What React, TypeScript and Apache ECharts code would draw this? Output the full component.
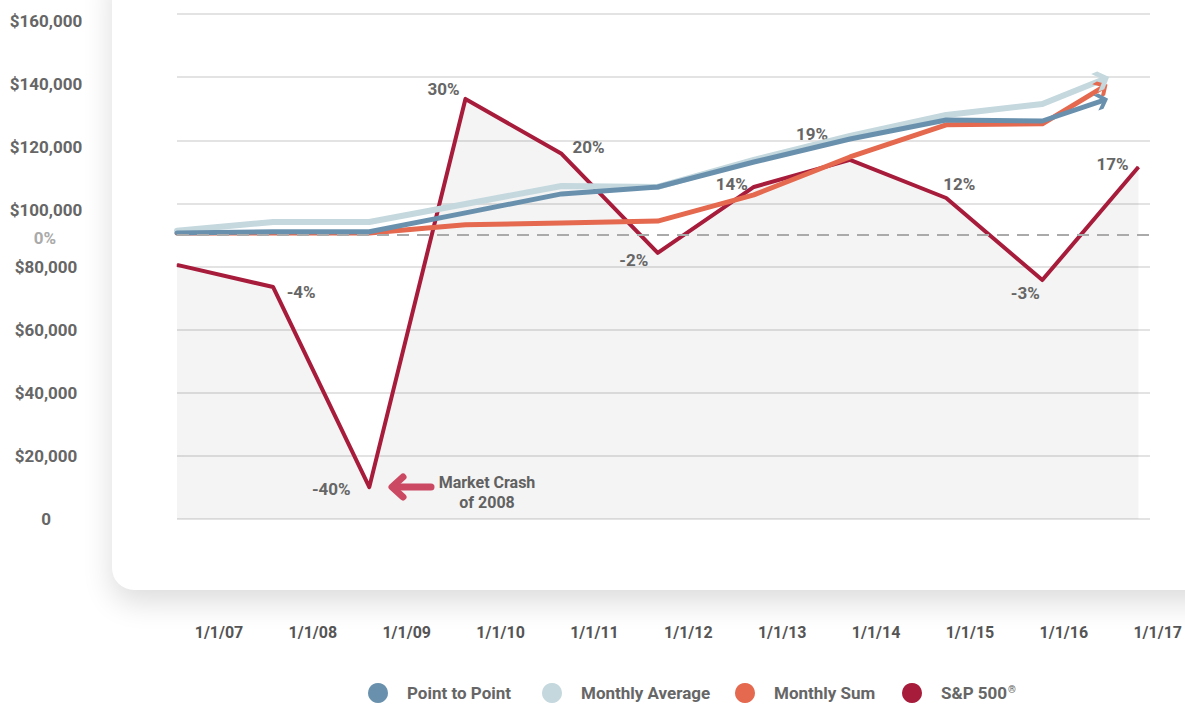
import React, { useEffect, useRef } from 'react';
import * as echarts from 'echarts';

// ---------- data ----------
const xTickLabels = ['1/1/07', '1/1/08', '1/1/09', '1/1/10', '1/1/11', '1/1/12', '1/1/13', '1/1/14', '1/1/15', '1/1/16', '1/1/17'];
const indexX = [0, 1, 2, 3, 4, 5, 6, 7, 8, 9, 9.62];
const sp500X = [0, 1, 2, 3, 4, 5, 6, 7, 8, 9, 10];
const pointToPoint = [90600, 91000, 91000, 97000, 103000, 105200, 113100, 120400, 126400, 126100, 132500];
const monthlyAverage = [91300, 94100, 94100, 99800, 105500, 105200, 113800, 121400, 128000, 131500, 139100];
const monthlySum = [90600, 90600, 90600, 93200, 93800, 94400, 102700, 114700, 124900, 125200, 136600];
const sp500 = [80500, 73500, 10100, 133100, 115700, 84300, 105200, 113800, 101700, 75700, 111500];
const sp500Returns = ['', '-4%', '-40%', '30%', '20%', '-2%', '14%', '19%', '12%', '-3%', '17%'];
const zeroReturnLevel = 90000;
const yMin = 0;
const yMax = 160000;
const yStep = 20000;
const seriesNames = ['Point to Point', 'Monthly Average', 'Monthly Sum', 'S&P 500®'];
const annotationText = 'Market Crash\nof 2008';

// ---------- styles ----------
const FONT = "Roboto, 'Liberation Sans', sans-serif";
const colors = {
  p2p: '#6991ae',
  avg: '#c4d8de',
  sum: '#e4694f',
  sp: '#a71b3b',
  arrow: '#d64d69',
};
const labelOffsets: [number, number][] = [
  [0, 0], [28, 5], [-38, 2], [-22, -10], [27, -7], [-24, 7], [-22, -3], [-38, -26], [13, -14], [-17, 13], [-26, -3],
];
const legendLefts = [368, 542, 735, 902];
const CHEVRON = 'path://M0,0 L5,0 L12,7 L5,14 L0,14 L7,7 Z';

const legendTextBase = { fontFamily: FONT, fontWeight: 'bold', fontSize: 17, color: '#666' };

function buildOption(rot: number[]) {
  const indexSeries = (name: string, values: number[], color: string, width: number, r: number) => ({
    name,
    type: 'line',
    symbol: 'none',
    showSymbol: true,
    itemStyle: { color },
    lineStyle: { color, width, cap: 'round', join: 'round' },
    data: values.map((v, i) =>
      i === values.length - 1
        ? { value: [indexX[i], v], symbol: CHEVRON, symbolSize: [width * 2.6, width * 3.2], symbolRotate: r, symbolKeepAspect: false }
        : { value: [indexX[i], v] }
    ),
    z: 3,
  });

  return {
    animation: false,
    grid: [
      { left: 177, right: 35, top: 14, bottom: 185 },
      { left: 219, right: 27, top: 610, height: 2 },
    ],
    xAxis: [
      { type: 'value', gridIndex: 0, min: 0, max: 10.12, show: false },
      {
        type: 'category',
        gridIndex: 1,
        data: xTickLabels,
        boundaryGap: false,
        axisLine: { show: false },
        axisTick: { show: false },
        axisLabel: { margin: 12, fontFamily: FONT, fontWeight: 'bold', fontSize: 16, color: '#555' },
      },
    ],
    yAxis: [
      {
        type: 'value',
        gridIndex: 0,
        min: yMin,
        max: yMax,
        interval: yStep,
        axisLine: { show: false },
        axisTick: { show: false },
        splitLine: { lineStyle: { color: '#e3e3e3', width: 2 } },
        axisLabel: {
          align: 'center',
          margin: 131,
          fontFamily: FONT,
          fontWeight: 'bold',
          fontSize: 17,
          color: '#666',
          formatter: (v: number) => {
            const s = v === 0 ? '0' : '$' + v.toLocaleString('en-US');
            return v >= 100000 ? '{s|' + s + '}' : '{n|' + s + '}';
          },
          rich: {
            s: { fontFamily: FONT, fontWeight: 'bold', fontSize: 17, color: '#666', padding: [14, 0, 0, 0] },
            n: { fontFamily: FONT, fontWeight: 'bold', fontSize: 17, color: '#666' },
          },
        },
      },
      { type: 'value', gridIndex: 1, show: false },
    ],
    legend: seriesNames.map((name, i) => ({
      left: legendLefts[i],
      top: 683,
      padding: 0,
      itemWidth: 20,
      itemHeight: 20,
      icon: 'circle',
      formatter: (n: string) => (n.includes('®') ? '{n|' + n.replace('®', '') + '}{sup|®}' : n),
      textStyle: {
        ...legendTextBase,
        padding: [0, 0, 0, 14],
        rich: {
          n: { ...legendTextBase },
          sup: { ...legendTextBase, fontSize: 10, verticalAlign: 'top', padding: [0, 0, 6, 1] },
        },
      },
      data: [{ name, icon: 'circle' }],
    })),
    graphic: [
      {
        type: 'text',
        x: 487,
        y: 492,
        style: {
          text: annotationText,
          align: 'center',
          verticalAlign: 'middle',
          font: `bold 16px ${FONT}`,
          fill: '#666',
          lineHeight: 20,
        },
      },
      {
        type: 'line',
        shape: { x1: 396, y1: 487, x2: 431, y2: 487 },
        style: { stroke: colors.arrow, lineWidth: 7, lineCap: 'round' },
      },
      {
        type: 'polyline',
        shape: { points: [[403, 477], [392, 487], [403, 497]] },
        style: { stroke: colors.arrow, fill: 'none', lineWidth: 7, lineCap: 'round', lineJoin: 'round' },
      },
    ],
    series: [
      {
        name: seriesNames[3],
        type: 'line',
        symbol: 'circle',
        symbolSize: 1,
        itemStyle: { color: colors.sp },
        lineStyle: { color: colors.sp, width: 4, join: 'round' },
        areaStyle: { color: 'rgba(0,0,0,0.062)' },
        z: 2,
        data: sp500.map((v, i) => ({
          value: [sp500X[i], v],
          label: {
            show: sp500Returns[i] !== '',
            position: 'inside',
            offset: labelOffsets[i],
            formatter: sp500Returns[i],
            fontFamily: FONT,
            fontWeight: 'bold',
            fontSize: 17,
            color: '#666',
          },
        })),
        markLine: {
          silent: true,
          symbol: 'none',
          lineStyle: { color: '#aaaaaa', type: [12, 8], width: 2 },
          label: {
            show: true,
            position: 'start',
            distance: 121,
            formatter: '0%',
            fontFamily: FONT,
            fontWeight: 'bold',
            fontSize: 17,
            color: '#aaaaaa',
            offset: [0, 3],
          },
          data: [{ yAxis: zeroReturnLevel }],
        },
      },
      indexSeries(seriesNames[2], monthlySum, colors.sum, 5, rot[2]),
      indexSeries(seriesNames[1], monthlyAverage, colors.avg, 6, rot[1]),
      indexSeries(seriesNames[0], pointToPoint, colors.p2p, 5, rot[0]),
    ],
  };
}

export default function App() {
  const ref = useRef<HTMLDivElement>(null);
  useEffect(() => {
    if (!ref.current) return;
    const chart = echarts.init(ref.current, undefined, { renderer: 'svg' });
    chart.setOption(buildOption([0, 0, 0]) as any);
    const angleOf = (vals: number[]) => {
      const n = vals.length;
      const a = chart.convertToPixel({ xAxisIndex: 0, yAxisIndex: 0 }, [indexX[n - 2], vals[n - 2]]) as number[];
      const b = chart.convertToPixel({ xAxisIndex: 0, yAxisIndex: 0 }, [indexX[n - 1], vals[n - 1]]) as number[];
      return (Math.atan2(a[1] - b[1], b[0] - a[0]) * 180) / Math.PI;
    };
    const rot = [angleOf(pointToPoint), angleOf(monthlyAverage), angleOf(monthlySum)];
    chart.setOption(buildOption(rot) as any, true);
    return () => chart.dispose();
  }, []);

  return (
    <div style={{ position: 'fixed', left: 0, top: 0, width: 1185, height: 704, background: '#ffffff', overflow: 'hidden' }}>
      <div
        style={{
          position: 'absolute',
          left: 112,
          top: -40,
          width: 1200,
          height: 630,
          borderRadius: 22,
          background: '#ffffff',
          boxShadow: '0 12px 30px rgba(0,0,0,0.14)',
        }}
      />
      <div ref={ref} style={{ position: 'absolute', left: 0, top: 0, width: 1185, height: 704 }} />
    </div>
  );
}
